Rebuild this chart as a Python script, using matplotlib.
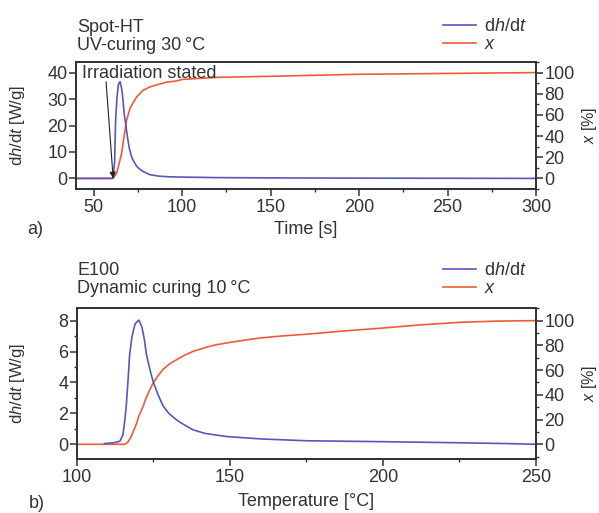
import matplotlib
matplotlib.use("Agg")
import matplotlib.pyplot as plt
from matplotlib.ticker import MultipleLocator

plt.rcParams['font.family'] = ['Liberation Sans', 'DejaVu Sans']
plt.rcParams['mathtext.fontset'] = 'custom'
plt.rcParams['mathtext.rm'] = 'Liberation Sans'
plt.rcParams['mathtext.it'] = 'Liberation Sans:italic'

# ---- Panel a) data: UV-curing 30 °C ----
time_dh = [40, 60, 61, 61.8, 62.4, 63.2, 64.0, 64.9, 65.8, 66.5, 67.3, 68.2, 69.0,
           70.1, 71.5, 73.0, 74.3, 76, 78, 81.8, 87, 93, 100, 120, 150, 200, 250, 300]
dhdt_a = [0, 0, 0.3, 6, 22, 31, 35.5, 36.6, 34, 30, 24, 20, 16,
          11.5, 8, 6, 4.6, 3.5, 2.6, 1.4, 0.85, 0.6, 0.5, 0.3, 0.2, 0.1, 0.05, 0]
time_x = [40, 61, 63, 65.8, 67, 68.6, 70.5, 72.5, 74.3, 77.7, 81.8, 87, 91.2, 96.5,
          100, 120, 150, 200, 250, 300]
conv_a = [0, 0, 5, 23.7, 38, 55, 66, 72, 77, 83, 86.5, 89, 91, 92,
          93.5, 95.5, 96.5, 98.4, 99.2, 100]

# ---- Panel b) data: Dynamic curing 10 °C ----
temp_dh = [109, 112, 114, 115, 115.6, 116.1, 116.7, 117.2, 118, 119, 120.2, 121.2,
           122.0, 122.7, 124, 124.9, 126.5, 128.1, 130, 132.6, 134.7, 138, 142, 149,
           160, 175, 200, 225, 240, 250]
dhdt_b = [0.05, 0.1, 0.2, 0.6, 1.5, 2.5, 4.2, 5.8, 7.0, 7.8, 8.04, 7.6,
          6.8, 5.8, 4.7, 4.05, 3.2, 2.5, 2.0, 1.57, 1.3, 0.93, 0.7, 0.5,
          0.35, 0.23, 0.17, 0.1, 0.05, 0]
temp_x = [100, 115.6, 116.5, 117.5, 118.5, 119.5, 120.2, 121.5, 122.5, 123.7, 124.9,
          126.5, 128.1, 130, 132.6, 135, 138, 142, 145, 149, 155, 160, 167, 175,
          187, 200, 212, 225, 237, 250]
conv_b = [0, 0, 1.5, 5, 11, 17, 22.8, 30, 37, 43.5, 49.7,
          55.5, 60.5, 64.5, 68.5, 71.8, 75.2, 78.3, 80.2, 82, 84.3, 86, 87.6, 89,
          91.6, 94, 96.5, 98.6, 99.6, 100]

BLUE = '#5558b8'
RED = '#f05a3a'
DARK = '#333333'
FS = 13

W, H = 599, 513
fig = plt.figure(figsize=(W / 100, H / 100), dpi=100)


def make_axes(l, t, r, b):
    return fig.add_axes([l / W, 1 - b / H, (r - l) / W, (b - t) / H])


def style(ax, ax2):
    for a in (ax, ax2):
        for s in a.spines.values():
            s.set_color(DARK)
            s.set_linewidth(1.3)
        a.tick_params(which='major', direction='out', length=5, width=1.1,
                      color=DARK, labelcolor=DARK, labelsize=FS)
        a.tick_params(which='minor', direction='out', length=2.5, width=1.0,
                      color=DARK)
    ax.tick_params(axis='y', pad=1.2)
    ax2.tick_params(axis='y', pad=1.2)
    ax.tick_params(axis='x', pad=2.5)
    ax.set_zorder(ax2.get_zorder() + 1)
    ax.patch.set_visible(False)


def add_legend(l1, l2, top_px):
    fig.legend([l1, l2], [r'd$h$/d$t$', r'$x$'], loc='upper left',
               bbox_to_anchor=(443 / W, 1 - top_px / H), frameon=False,
               borderpad=0, borderaxespad=0, handlelength=1.85, handletextpad=0.4,
               labelspacing=0.08, fontsize=FS, labelcolor=DARK)


# ---------- Panel a ----------
axa = make_axes(76, 62, 536, 189)
axa2 = axa.twinx()
l1, = axa.plot(time_dh, dhdt_a, color=BLUE, lw=1.2)
l2, = axa2.plot(time_x, conv_a, color=RED, lw=1.2)
axa.set_xlim(40, 300)
axa.set_ylim(-4, 44)
axa2.set_ylim(-10, 110)
axa.xaxis.set_major_locator(MultipleLocator(50))
axa.xaxis.set_minor_locator(MultipleLocator(25))
axa.yaxis.set_major_locator(MultipleLocator(10))
axa2.yaxis.set_major_locator(MultipleLocator(20))
axa2.yaxis.set_minor_locator(MultipleLocator(10))
style(axa, axa2)
axa.set_ylabel(r'd$h$/d$t$ [W/g]', fontsize=12, color=DARK)
axa.yaxis.set_label_coords((27 - 76) / 460, 0.5)
axa2.set_ylabel(r'$x$ [%]', fontsize=11.5, color=DARK, rotation=90)
axa2.yaxis.set_label_coords((580 - 76) / 460, 0.5)
axa.set_xlabel('Time [s]', fontsize=FS, color=DARK, va='center')
axa.xaxis.set_label_coords(0.5, (189 - 229) / 127)
axa.text(43.3, 37.9, 'Irradiation stated', fontsize=FS, color=DARK,
         va='baseline', ha='left')
axa.annotate('', xy=(61, 0), xytext=(57, 36.5),
             arrowprops=dict(arrowstyle='-|>', color='#222222', lw=0.8,
                             mutation_scale=9, shrinkA=0, shrinkB=0))
fig.text(77 / W, 1 - 32 / H, 'Spot-HT', fontsize=13, color=DARK, va='baseline')
fig.text(77 / W, 1 - 50 / H, 'UV-curing 30\u2009°C', fontsize=13, color=DARK, va='baseline')
fig.text(35 / W, 1 - 230 / H, 'a)', fontsize=FS, color=DARK, va='center', ha='center')
add_legend(l1, l2, 18)

# ---------- Panel b ----------
axb = make_axes(77, 308, 536, 459)
axb2 = axb.twinx()
m1, = axb.plot(temp_dh, dhdt_b, color=BLUE, lw=1.2)
m2, = axb2.plot(temp_x, conv_b, color=RED, lw=1.2)
axb.set_xlim(100, 250)
axb.set_ylim(-0.95, 8.82)
axb2.set_ylim(-11.9, 110.2)
axb.xaxis.set_major_locator(MultipleLocator(50))
axb.xaxis.set_minor_locator(MultipleLocator(25))
axb.yaxis.set_major_locator(MultipleLocator(2))
axb.yaxis.set_minor_locator(MultipleLocator(1))
axb2.yaxis.set_major_locator(MultipleLocator(20))
axb2.yaxis.set_minor_locator(MultipleLocator(10))
style(axb, axb2)
axb.set_ylabel(r'd$h$/d$t$ [W/g]', fontsize=12, color=DARK)
axb.yaxis.set_label_coords((27 - 77) / 459, 0.5)
axb2.set_ylabel(r'$x$ [%]', fontsize=11.5, color=DARK, rotation=90)
axb2.yaxis.set_label_coords((580 - 77) / 459, 0.5)
axb.set_xlabel('Temperature [°C]', fontsize=FS, color=DARK, va='center')
axb.xaxis.set_label_coords(0.5, (459 - 502) / 151)
fig.text(77 / W, 1 - 275 / H, 'E100', fontsize=13, color=DARK, va='baseline')
fig.text(77 / W, 1 - 293 / H, 'Dynamic curing 10\u2009°C', fontsize=13, color=DARK, va='baseline')
fig.text(37 / W, 1 - 503 / H, 'b)', fontsize=FS, color=DARK, va='center', ha='center')
add_legend(m1, m2, 262)

fig.savefig('out.png', dpi=100)
